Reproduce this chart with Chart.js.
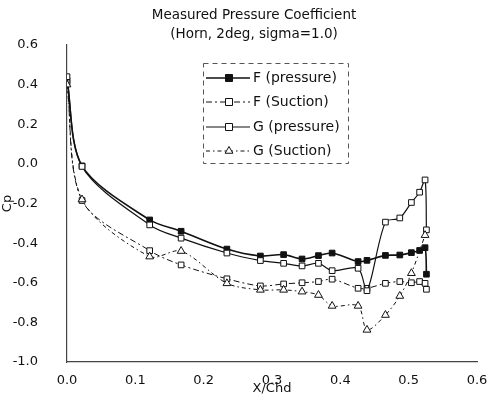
<!DOCTYPE html>
<html>
<head>
<meta charset="utf-8">
<script src="https://cdn.jsdelivr.net/npm/chart.js@4/dist/chart.umd.min.js"></script>
<style>
html,body{margin:0;padding:0;background:#fff;}
#wrap{width:492px;height:408px;}
</style>
</head>
<body>
<div id="wrap"><canvas id="c" width="492" height="408"></canvas></div>
<script>
// Data
const titleLines = ["Measured Pressure Coefficient", "(Horn, 2deg, sigma=1.0)"];
const xTitle = "X/Chd";
const yTitle = "Cp";
const seriesNames = ["F (pressure)", "F (Suction)", "G (pressure)", "G (Suction)"];
const xTaps = [0.0, 0.022, 0.121, 0.167, 0.234, 0.283, 0.317, 0.344, 0.368, 0.388, 0.426, 0.439, 0.466, 0.487, 0.504, 0.516, 0.524, 0.526];
const fPressure = [0.42, -0.01, -0.283, -0.34, -0.43, -0.465, -0.458, -0.48, -0.463, -0.45, -0.493, -0.487, -0.462, -0.46, -0.448, -0.437, -0.423, -0.557];
const fSuction  = [0.41, -0.185, -0.438, -0.51, -0.58, -0.616, -0.606, -0.6, -0.594, -0.582, -0.628, -0.628, -0.603, -0.594, -0.6, -0.594, -0.603, -0.633];
const gPressure = [0.44, -0.013, -0.308, -0.375, -0.45, -0.488, -0.502, -0.515, -0.502, -0.539, -0.527, -0.64, -0.294, -0.273, -0.195, -0.143, -0.081, -0.333];
const gSuction  = [0.40, -0.18, -0.468, -0.44, -0.603, -0.636, -0.636, -0.645, -0.662, -0.717, -0.717, -0.838, -0.763, -0.667, -0.552, null, -0.36, null];
const xTicks = [0.0, 0.1, 0.2, 0.3, 0.4, 0.5, 0.6];
const yTicks = [0.6, 0.4, 0.2, 0.0, -0.2, -0.4, -0.6, -0.8, -1.0];

const INK = '#111';
const FONT = "'DejaVu Sans', Verdana, sans-serif";

function pts(ys){ return xTaps.map((x,i)=> ys[i]===null ? null : {x:x, y:ys[i]}).filter(p=>p!==null); }

const styles = [
  {data: fPressure, marker:'rect', fill:INK, dash:[], width:1.6},
  {data: fSuction, marker:'rect', fill:'#fff', dash:[6,3,2,3], width:1},
  {data: gPressure, marker:'rect', fill:'#fff', dash:[], width:1.2},
  {data: gSuction, marker:'triangle', fill:'#fff', dash:[4,3,1.5,3], width:1}
];

const datasets = styles.map((s,i)=>({
  label: seriesNames[i],
  data: pts(s.data),
  borderColor: INK,
  borderWidth: s.width,
  borderDash: s.dash,
  backgroundColor: s.fill,
  pointStyle: s.marker,
  pointRadius: s.marker==='triangle' ? 4.5 : 4,
  pointBorderWidth: 1,
  pointBorderColor: INK,
  pointBackgroundColor: s.fill,
  tension: 0.3,
  spanGaps: true,
  showLine: true,
  fill: false
}));
// draw order so that G series are on top like the reference
datasets.forEach((d,i)=> d.order = 4 - i);

function drawMarker(ctx, type, x, y, fill){
  ctx.save();
  ctx.setLineDash([]);
  ctx.lineWidth = 1;
  ctx.strokeStyle = INK;
  ctx.fillStyle = fill;
  ctx.beginPath();
  if (type === 'triangle') {
    const r = 4.5;
    ctx.moveTo(x, y - r);
    ctx.lineTo(x + r*0.866, y + r*0.5);
    ctx.lineTo(x - r*0.866, y + r*0.5);
    ctx.closePath();
  } else {
    ctx.rect(x - 3.5, y - 3.5, 7, 7);
  }
  ctx.fill();
  ctx.stroke();
  ctx.restore();
}

const overlay = {
  id: 'overlay',
  afterDraw(chart){
    const ctx = chart.ctx;
    // title
    ctx.save();
    ctx.fillStyle = INK;
    ctx.font = "13.5px " + FONT;
    ctx.textAlign = 'center';
    ctx.textBaseline = 'middle';
    ctx.fillText(titleLines[0], 254, 15);
    ctx.fillText(titleLines[1], 254, 34);
    ctx.restore();

    // legend
    const bx = 203, by = 63, bw = 145, bh = 100;
    ctx.save();
    ctx.fillStyle = '#fff';
    ctx.fillRect(bx, by, bw, bh);
    ctx.strokeStyle = '#555';
    ctx.lineWidth = 1;
    ctx.setLineDash([5,4]);
    ctx.strokeRect(bx + 0.5, by + 0.5, bw, bh);
    const rows = [78, 102, 127, 151];
    rows.forEach((ry, i) => {
      const s = styles[i];
      ctx.save();
      ctx.strokeStyle = INK;
      ctx.lineWidth = s.width;
      ctx.setLineDash(s.dash);
      ctx.beginPath();
      ctx.moveTo(206, ry);
      ctx.lineTo(250, ry);
      ctx.stroke();
      ctx.restore();
      drawMarker(ctx, s.marker, 229, ry, s.fill);
      ctx.fillStyle = INK;
      ctx.font = "14px " + FONT;
      ctx.textAlign = 'left';
      ctx.textBaseline = 'middle';
      ctx.fillText(seriesNames[i], 253, ry);
    });
    ctx.restore();
  }
};

new Chart(document.getElementById('c'), {
  type: 'line',
  data: { datasets },
  options: {
    responsive: false,
    animation: false,
    layout: { padding: { top: 45, right: 15, left: 0, bottom: 0 } },
    plugins: { legend: { display: false }, title: { display: false }, tooltip: { enabled: false } },
    scales: {
      x: {
        type: 'linear',
        min: 0, max: 0.6,
        afterFit(scale){ scale.height = 46; },
        afterBuildTicks(scale){ scale.ticks = xTicks.map(v=>({value:v})); },
        grid: { display: false },
        border: { display: true, color: '#444', width: 1.2, dash: [7,5] },
        ticks: { color: INK, font: { family: FONT, size: 13 }, padding: 3, maxRotation: 0,
                 callback: v => Number(v).toFixed(1) },
        title: { display: true, text: xTitle, color: INK, font: { family: FONT, size: 13 },
                 padding: { top: 0, bottom: 12 } }
      },
      y: {
        type: 'linear',
        min: -1.0, max: 0.6,
        afterFit(scale){ scale.width = 67; },
        afterBuildTicks(scale){ scale.ticks = yTicks.map(v=>({value:v})); },
        grid: { display: false },
        border: { display: true, color: '#444', width: 1.2, dash: [7,5] },
        ticks: { color: INK, font: { family: FONT, size: 13 }, padding: 21,
                 callback: v => Number(v).toFixed(1) },
        title: { display: true, text: yTitle, color: INK, font: { family: FONT, size: 13 },
                 padding: { top: 0, bottom: 2 } }
      }
    }
  },
  plugins: [overlay]
});
</script>
</body>
</html>
